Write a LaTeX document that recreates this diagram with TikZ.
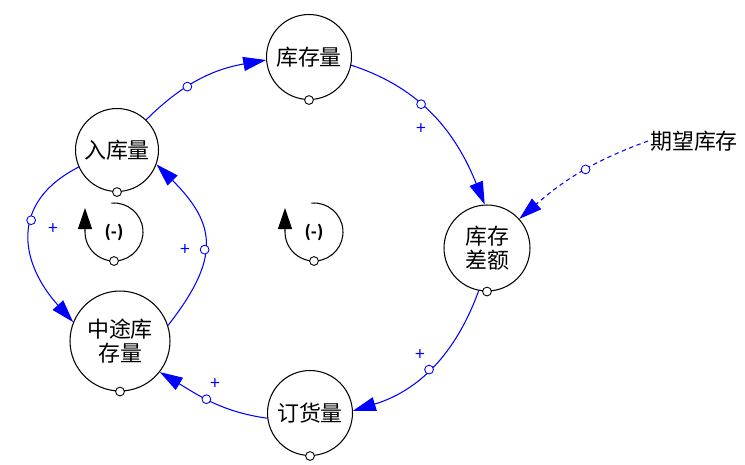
\documentclass[tikz,border=0pt]{standalone}
\usepackage{fontspec}
\setmainfont{Noto Sans CJK SC}
\usetikzlibrary{arrows.meta}

\tikzset{
	var/.style={circle, draw=black, line width=0.6pt, inner sep=0pt, minimum size=1.7cm, align=center, font=\fontsize{12.5}{13.5}\selectfont},
	link/.style={blue, line width=0.6pt, -{Triangle[length=13pt, width=8pt]}},
	tap/.style={circle, draw=blue, fill=white, solid, line width=0.5pt, inner sep=0pt, minimum size=5pt},
	foot/.style={circle, draw=black, fill=white, line width=0.5pt, inner sep=0pt, minimum size=5pt},
	sign/.style={text=blue, font=\fontsize{10}{10}\selectfont, inner sep=0pt},
}

\begin{document}
\begin{tikzpicture}[x=0.02cm, y=0.02cm]
	\useasboundingbox (0,0) rectangle (745,-464);
	% variables
	\node[var] (stock) at (309,-57) {库存量};
	\node[var, minimum size=1.66cm] (inflow) at (117,-150) {入库量};
	\node[var, minimum size=2cm] (transit) at (120,-341) {中途库\\存量};
	\node[var] (order) at (310,-413) {订货量};
	\node[var, minimum size=1.72cm] (gap) at (487,-248) {库存\\差额};
	\node[anchor=west, inner sep=1pt, font=\fontsize{12.5}{13.5}\selectfont] (goal) at (648,-141) {期望库存};
	\foreach \n in {stock,inflow,transit,order,gap} {
		\node[foot] (\n-o) at (\n.south) {};
	}
	% links
	\draw[link] (inflow.46) to[out=45, in=190] node[tap, pos=0.38] (t1) {} (stock.184);
	\draw[link] (stock.-11) to[out=-18, in=112] node[tap, pos=0.4] (t2) {} (gap.93);
	\draw[link, dash pattern=on 2.5pt off 2pt] (goal.west) to[out=200, in=41] node[tap, pos=0.45] (t3) {} (gap.42);
	\draw[link] (gap.259) to[out=250, in=17] node[tap, pos=0.52] (t4) {} (order.3);
	\draw[link] (order.187) to[out=172, in=-31] node[tap, pos=0.55] (t5) {} (transit.-38);
	\draw[link] (transit.18) to[out=52, in=-45, looseness=1.35] node[tap, pos=0.45] (t6) {} (inflow.-20);
	\draw[link] (inflow.204) to[out=207, in=132, looseness=1.3] node[tap, pos=0.4] (t7) {} (transit.158);
	% polarities
	\node[sign] (p2) at (421,-129) {+};
	\node[sign] (p4) at (420,-355) {+};
	\node[sign] (p5) at (215,-384) {+};
	\node[sign] (p6) at (185,-250) {+};
	\node[sign] (p7) at (53,-229) {+};
	% loop markers
	\foreach \l/\x in {loopL/114, loopR/314} {
		\node[font=\fontsize{9}{9}\selectfont\bfseries, inner sep=0pt] (\l) at (\x,-232) {(-)};
		\draw[line width=0.6pt, -{Triangle[length=12pt, width=8pt]}] (\l) ++(95:0.58cm) arc[start angle=95, end angle=-180, radius=0.58cm] -- ++(0,24);
		\node[foot] (\l-o) at (\x,-261) {};
	}
\end{tikzpicture}
\end{document}
